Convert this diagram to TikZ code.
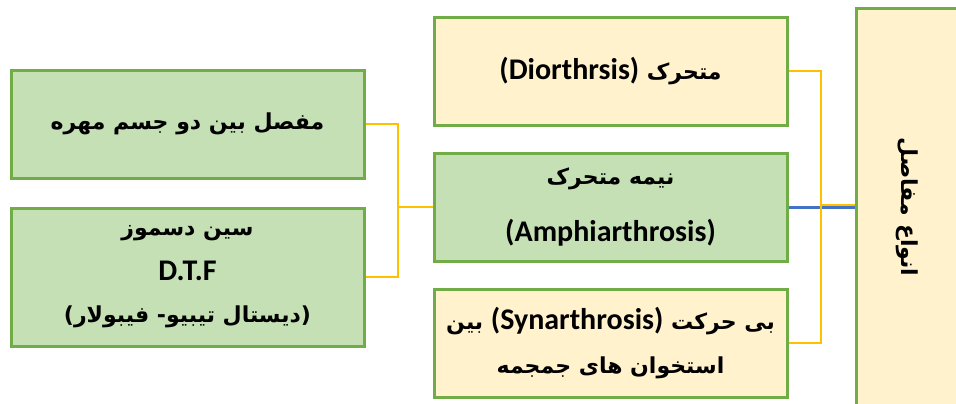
\documentclass[tikz,border=0pt]{standalone}
\usepackage{fontspec}
\usepackage{graphicx}
\setmainfont{Carlito}
\newfontfamily\fa[Script=Arabic]{DejaVu Sans}
\newfontfamily\lat{Carlito}
\TeXXeTstate=1
\usetikzlibrary{positioning}

\definecolor{boxgreen}{HTML}{70AD47}
\definecolor{palegreen}{HTML}{C5E0B4}
\definecolor{paleyellow}{HTML}{FFF2CC}
\definecolor{linkorange}{HTML}{FFC000}
\definecolor{linkblue}{HTML}{4472C4}

\newcommand{\farsi}[1]{{\fa\bfseries\fontsize{11}{13}\selectfont\beginR #1\endR}}
\newcommand{\enword}[1]{\beginL{\lat\bfseries\fontsize{15}{16}\selectfont #1}\endL}

\begin{document}
\begin{tikzpicture}[
  x=0.5pt, y=-0.5pt,
  node distance=12.5pt,
  box/.style={draw=boxgreen,line width=1.5pt,align=center,minimum width=176.5pt,minimum height=54pt,inner sep=2pt},
  greenbox/.style={box,fill=palegreen},
  yellowbox/.style={box,fill=paleyellow},
  link/.style={draw=linkorange,line width=1pt},
  mainlink/.style={draw=linkblue,line width=1.5pt}
]
\useasboundingbox (0,0) rectangle (956,403);
\clip (0,0) rectangle (956,403);

% root on the right, cut by the page edge
\node[yellowbox,minimum width=50.5pt,minimum height=199pt] (root) at (907,207)
  {\rotatebox[origin=c]{-90}{\farsi{انواع مفاصل}}};

% three kinds of joints
\node[greenbox] (amph) at (610.5,207)
  {\farsi{نیمه متحرک}\\[14pt]\enword{(Amphiarthrosis)}};
\node[yellowbox,above=of amph] (dio)
  {\farsi{متحرک \enword{(Diorthrsis)}}};
\node[yellowbox,below=of amph] (syn)
  {\farsi{بی حرکت \enword{(Synarthrosis)} بین}\\[10pt]\farsi{استخوان های جمجمه}};

% examples of amphiarthrosis
\node[greenbox] (vert) at (187.5,124) {\farsi{مفصل بین دو جسم مهره}};
\node[greenbox,below=13.5pt of vert,minimum height=69pt] (dtf)
  {\farsi{سین دسموز}\\[9pt]\enword{D.T.F}\\[9pt]\farsi{(دیستال تیبیو- فیبولار)}};

\coordinate (rj) at (821,207);
\coordinate (lj) at (398,207);

\draw[mainlink] (amph.east) -- (root.west);
\draw[link] (dio.east) -| (rj) |- (syn.east);
\draw[link] ([yshift=1pt]rj) -- ([yshift=1pt]root.west);
\draw[link] (amph.west) -- (lj);
\draw[link] (vert.east) -| (lj) |- (dtf.east);
\end{tikzpicture}
\end{document}
